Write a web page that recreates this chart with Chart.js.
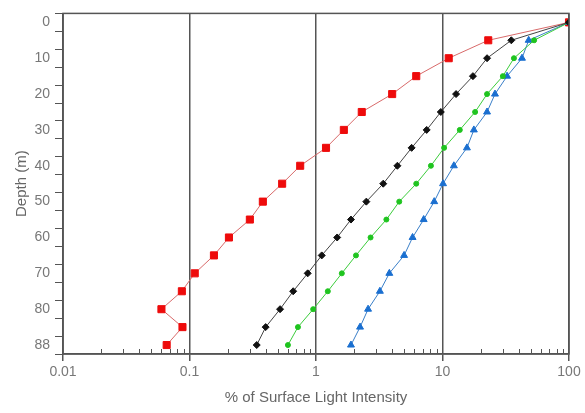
<!DOCTYPE html>
<html>
<head>
<meta charset="utf-8">
<script src="https://cdn.jsdelivr.net/npm/chart.js@4.4.1/dist/chart.umd.min.js"></script>
<style>
  html, body { margin: 0; padding: 0; background: #fff; }
  #wrap { width: 585px; height: 413px; }
</style>
</head>
<body>
<div id="wrap"><canvas id="graph_1"></canvas></div>
<script>
// depth categories (m), evenly spaced in the original plot
var depths = ['0','5','10','15','20','25','30','35','40','45','50','55','60','65','70','75','80','85','88'];
var depthLabelsShown = ['0','10','20','30','40','50','60','70','80','88'];
var xTicks = [0.01, 0.1, 1, 10, 100];

// % of surface light intensity for each profile
var redValues   = [100, 23, 11.2, 6.2, 4.0, 2.3, 1.66, 1.2, 0.75, 0.54, 0.38, 0.30, 0.205, 0.156, 0.11, 0.087, 0.060, 0.088, 0.066];
var blackValues = [100, 35, 22.5, 17.4, 12.8, 9.7, 7.5, 5.7, 4.4, 3.4, 2.5, 1.89, 1.47, 1.11, 0.86, 0.66, 0.52, 0.40, 0.34];
var greenValues = [100, 53, 36.7, 30, 22.5, 18.1, 13.7, 10.3, 8.1, 6.2, 4.55, 3.6, 2.7, 2.07, 1.6, 1.24, 0.95, 0.72, 0.60];
var blueValues  = [100, 48, 42.5, 32.4, 26, 22.5, 17.7, 15.6, 12.3, 10.1, 8.6, 7.1, 5.8, 4.97, 3.8, 3.2, 2.58, 2.23, 1.89];

function toPoints(vals) {
    return vals.map(function (v, i) { return { x: v, y: depths[i] }; });
}

var axisColor = '#555';

// frame + inward minor ticks on the log axis
var framePlugin = {
    id: 'frame',
    afterDraw: function (chart) {
        var c = chart.ctx, a = chart.chartArea, xs = chart.scales.x;
        c.save();
        c.strokeStyle = axisColor;
        c.lineWidth = 1.5;
        c.strokeRect(a.left, a.top, a.right - a.left, a.bottom - a.top);
        c.lineWidth = 1;
        c.beginPath();
        for (var d = 0.01; d < 100; d *= 10) {
            for (var m = 2; m <= 9; m++) {
                var px = Math.round(xs.getPixelForValue(d * m)) + 0.5;
                c.moveTo(px, a.bottom);
                c.lineTo(px, a.bottom - 5);
            }
        }
        c.stroke();
        c.restore();
    }
};

var ctx = document.getElementById('graph_1');

var chart = new Chart(ctx, {
    type: 'line',
    data: {
        datasets: [{
            data: toPoints(redValues),
            order: 4,
            borderColor: '#d86a6a',
            borderWidth: 1,
            pointStyle: 'rect',
            pointRadius: 5,
            pointBackgroundColor: '#ee0b0b',
            pointBorderColor: '#ee0b0b'
        }, {
            data: toPoints(blackValues),
            order: 1,
            borderColor: '#444',
            borderWidth: 1,
            pointStyle: 'rectRot',
            pointRadius: 3.5,
            pointBackgroundColor: '#111',
            pointBorderColor: '#111'
        }, {
            data: toPoints(greenValues),
            order: 2,
            borderColor: '#3ccc3c',
            borderWidth: 1,
            pointStyle: 'circle',
            pointRadius: 2.5,
            pointBackgroundColor: '#1fc41f',
            pointBorderColor: '#1fc41f'
        }, {
            data: toPoints(blueValues),
            order: 3,
            borderColor: '#3a7fc8',
            borderWidth: 1,
            pointStyle: 'triangle',
            pointRadius: 4,
            pointBackgroundColor: '#1a6fd0',
            pointBorderColor: '#1a6fd0'
        }]
    },
    options: {
        responsive: true,
        maintainAspectRatio: false,
        animation: false,
        layout: { padding: { top: 11, right: 16, left: 0, bottom: 0 } },
        plugins: {
            legend: { display: false },
            tooltip: { enabled: false }
        },
        scales: {
            x: {
                type: 'logarithmic',
                min: 0.01,
                max: 100,
                afterBuildTicks: function (s) {
                    s.ticks = xTicks.map(function (v) { return { value: v }; });
                },
                afterFit: function (s) { s.height = 59; },
                border: { display: true, color: axisColor, width: 1.5 },
                grid: { color: axisColor, lineWidth: 1.5, tickLength: 7 },
                ticks: {
                    color: '#777',
                    font: { family: 'Liberation Sans, Arial', size: 14 },
                    padding: 3,
                    maxRotation: 0,
                    callback: function (v) { return String(v); }
                },
                title: {
                    display: true,
                    text: '% of Surface Light Intensity',
                    color: '#666',
                    font: { family: 'Liberation Sans, Arial', size: 15 },
                    padding: { top: 0, bottom: 6 }
                }
            },
            y: {
                type: 'category',
                labels: depths,
                offset: true,
                afterFit: function (s) { s.width = 63; },
                border: { display: true, color: axisColor, width: 1.5 },
                grid: { offset: true, drawOnChartArea: false, color: axisColor, lineWidth: 1, tickLength: 8 },
                ticks: {
                    color: '#777',
                    font: { family: 'Liberation Sans, Arial', size: 14 },
                    padding: 5,
                    autoSkip: false,
                    callback: function (v, i) {
                        var lab = depths[i];
                        return depthLabelsShown.indexOf(lab) >= 0 ? lab : '';
                    }
                },
                title: {
                    display: true,
                    text: 'Depth (m)',
                    color: '#666',
                    font: { family: 'Liberation Sans, Arial', size: 15 },
                    padding: { top: 13, bottom: 0 }
                }
            }
        }
    },
    plugins: [framePlugin]
});
</script>
</body>
</html>
